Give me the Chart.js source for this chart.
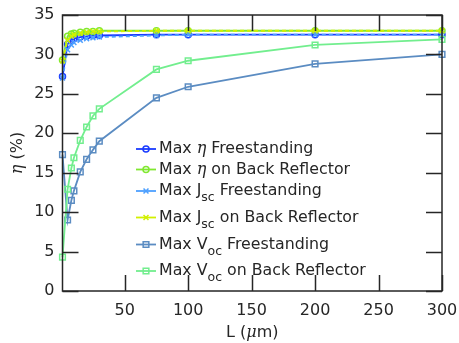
<!DOCTYPE html>
<html>
<head>
<meta charset="utf-8">
<script src="https://cdn.jsdelivr.net/npm/chart.js@4.4.1/dist/chart.umd.min.js"></script>
<style>
  html, body { margin: 0; padding: 0; background: #fff; }
  #wrap { width: 459px; height: 343px; position: relative; }
</style>
</head>
<body>
<div id="wrap"><canvas id="chart-eff"></canvas></div>
<script>
// Data
const L = [1, 5, 8, 10, 15, 20, 25, 30, 75, 100, 200, 300]
const eta_free = [27.2, 31.3, 31.8, 32.0, 32.2, 32.3, 32.4, 32.4, 32.5, 32.5, 32.5, 32.5]
const eta_br = [29.3, 32.3, 32.6, 32.7, 32.8, 32.9, 32.9, 33.0, 33.0, 33.0, 33.0, 33.0]
const jsc_free = [27.0, 30.6, 31.2, 31.5, 31.8, 32.0, 32.1, 32.2, 32.4, 32.5, 32.5, 32.5]
const jsc_br = [29.2, 31.8, 32.3, 32.5, 32.7, 32.8, 32.9, 32.9, 33.0, 33.0, 33.0, 33.0]
const voc_free = [17.3, 9.0, 11.5, 12.7, 15.1, 16.7, 17.9, 19.0, 24.5, 25.9, 28.8, 30.0]
const voc_br = [4.3, 12.9, 15.6, 16.9, 19.1, 20.8, 22.2, 23.1, 28.1, 29.2, 31.2, 31.9]

const x_ticks = [50, 100, 150, 200, 250, 300]
const y_ticks = [0, 5, 10, 15, 20, 25, 30, 35]

// legend labels: [text, kind] where kind n = normal, i = italic greek, s = subscript
const legend_labels = [
    [['Max ', 'n'], ['\u03b7', 'i'], [' Freestanding', 'n']],
    [['Max ', 'n'], ['\u03b7', 'i'], [' on Back Reflector', 'n']],
    [['Max J', 'n'], ['sc', 's'], [' Freestanding', 'n']],
    [['Max J', 'n'], ['sc', 's'], [' on Back Reflector', 'n']],
    [['Max V', 'n'], ['oc', 's'], [' Freestanding', 'n']],
    [['Max V', 'n'], ['oc', 's'], [' on Back Reflector', 'n']],
]

// Colors
const color_eta_free = '#1a3cff'
const color_eta_br = '#80e830'
const color_jsc_free = '#4da0ff'
const color_jsc_br = '#d2f000'
const color_voc_free = '#5b8cc2'
const color_voc_br = '#72ee8e'
const color_text = '#262626'

const font_sans = '"DejaVu Sans", Verdana, sans-serif'
const font_serif = '"DejaVu Serif", serif'

function series(label, values, color, style, dashed) {
    return {
        label: label,
        data: L.map((x, i) => ({x: x, y: values[i]})),
        borderColor: color,
        backgroundColor: 'rgba(255,255,255,0)',
        borderWidth: 1.8,
        borderDash: dashed ? [4, 3] : [],
        pointStyle: style,
        pointRadius: style === 'circle' ? 3 : (style === 'rect' ? 4 : 3.5),
        pointBorderWidth: 1.5,
        pointBorderColor: color,
        pointBackgroundColor: 'rgba(255,255,255,0)',
        showLine: true,
        tension: 0,
        clip: false,
    }
}

const datasets = [
    series('eta_free', eta_free, color_eta_free, 'circle', false),
    series('eta_br', eta_br, color_eta_br, 'circle', false),
    series('jsc_free', jsc_free, color_jsc_free, 'crossRot', true),
    series('jsc_br', jsc_br, color_jsc_br, 'crossRot', true),
    series('voc_free', voc_free, color_voc_free, 'rect', false),
    series('voc_br', voc_br, color_voc_br, 'rect', false),
]
// later series on top, like the original plot
datasets.forEach((d, i) => d.order = datasets.length - i)

// Draws the box, inward ticks, axis titles and the legend
const decorations = {
    id: 'decorations',
    afterDraw(chart) {
        const ctx = chart.ctx
        const a = chart.chartArea
        const xs = chart.scales.x
        const ys = chart.scales.y
        const tick_len = 16
        ctx.save()
        ctx.strokeStyle = color_text
        ctx.lineWidth = 1.5
        ctx.setLineDash([])
        ctx.strokeRect(a.left, a.top, a.right - a.left, a.bottom - a.top)
        ctx.beginPath()
        x_ticks.forEach(v => {
            const px = Math.round(xs.getPixelForValue(v)) + 0.5
            ctx.moveTo(px, a.bottom); ctx.lineTo(px, a.bottom - tick_len)
            ctx.moveTo(px, a.top); ctx.lineTo(px, a.top + tick_len)
        })
        y_ticks.forEach(v => {
            const py = Math.round(ys.getPixelForValue(v)) + 0.5
            ctx.moveTo(a.left, py); ctx.lineTo(a.left + tick_len, py)
            ctx.moveTo(a.right, py); ctx.lineTo(a.right - tick_len, py)
        })
        ctx.stroke()

        // axis titles
        ctx.fillStyle = color_text
        ctx.textBaseline = 'middle'
        const title_parts_x = [['L (', font_sans, 'normal'], ['\u03bc', font_serif, 'italic'], ['m)', font_sans, 'normal']]
        const title_parts_y = [['\u03b7', font_serif, 'italic'], [' (%)', font_sans, 'normal']]
        const draw_parts = (parts, cx, cy) => {
            let w = 0
            parts.forEach(p => { ctx.font = p[2] + ' 16px ' + p[1]; w += ctx.measureText(p[0]).width })
            let x = cx - w / 2
            ctx.textAlign = 'left'
            parts.forEach(p => {
                ctx.font = p[2] + ' 16px ' + p[1]
                ctx.fillText(p[0], x, cy)
                x += ctx.measureText(p[0]).width
            })
        }
        draw_parts(title_parts_x, (a.left + a.right) / 2, 333)
        ctx.save()
        ctx.translate(18, (a.top + a.bottom) / 2)
        ctx.rotate(-Math.PI / 2)
        draw_parts(title_parts_y, 0, 0)
        ctx.restore()

        // legend
        const rows_y = [149, 169.5, 191, 217.5, 244.5, 271]
        const line_x0 = 136, line_x1 = 156, text_x = 159
        chart.data.datasets.forEach((d, i) => {
            const y = rows_y[i]
            ctx.strokeStyle = d.borderColor
            ctx.lineWidth = 1.8
            ctx.setLineDash([])
            ctx.beginPath()
            ctx.moveTo(line_x0, y); ctx.lineTo(line_x1, y)
            ctx.stroke()
            ctx.lineWidth = 1.5
            ctx.fillStyle = 'rgba(255,255,255,0)'
            Chart.helpers.drawPoint(ctx, {
                pointStyle: d.pointStyle,
                radius: d.pointRadius,
                borderWidth: 1.5,
                rotation: 0,
            }, (line_x0 + line_x1) / 2, y)
            ctx.fillStyle = color_text
            ctx.textAlign = 'left'
            ctx.textBaseline = 'middle'
            let x = text_x
            legend_labels[i].forEach(part => {
                const text = part[0], kind = part[1]
                let dy = 0
                if (kind === 'i') {
                    ctx.font = 'italic 16px ' + font_serif
                } else if (kind === 's') {
                    ctx.font = '12.5px ' + font_sans
                    dy = 7
                } else {
                    ctx.font = '15.8px ' + font_sans
                }
                ctx.fillText(text, x, y + dy)
                x += ctx.measureText(text).width
            })
        })
        ctx.restore()
    }
}

const config = {
    type: 'scatter',
    data: {datasets: datasets},
    options: {
        responsive: false,
        animation: false,
        devicePixelRatio: 1,
        layout: {
            padding: {top: 15, right: 17, left: 0, bottom: 0},
        },
        plugins: {
            legend: {display: false},
            tooltip: {enabled: false},
        },
        scales: {
            x: {
                type: 'linear',
                min: 1,
                max: 300,
                grid: {display: false, drawTicks: false},
                border: {display: false},
                afterBuildTicks: (scale) => { scale.ticks = x_ticks.map(v => ({value: v})) },
                afterFit: (scale) => {
                    scale.height = 52
                    scale.paddingLeft = 0
                    scale.paddingRight = 0
                },
                ticks: {
                    padding: 10,
                    color: color_text,
                    font: {family: font_sans, size: 16},
                    maxRotation: 0,
                },
            },
            y: {
                type: 'linear',
                min: 0,
                max: 35,
                grid: {display: false, drawTicks: false},
                border: {display: false},
                afterBuildTicks: (scale) => { scale.ticks = y_ticks.map(v => ({value: v})) },
                afterFit: (scale) => {
                    scale.width = 62.5
                    scale.paddingTop = 0
                    scale.paddingBottom = 0
                },
                ticks: {
                    padding: 8,
                    color: color_text,
                    font: {family: font_sans, size: 16},
                },
            },
        },
    },
    plugins: [decorations],
}

const canvas = document.getElementById('chart-eff')
canvas.width = 459
canvas.height = 343
const chart = new Chart(canvas.getContext('2d'), config)
</script>
</body>
</html>
